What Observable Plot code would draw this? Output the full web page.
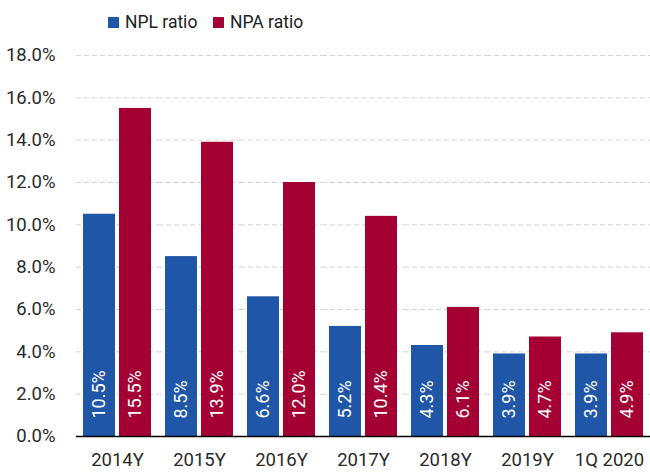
<!DOCTYPE html>
<html><head><meta charset="utf-8">
<script src="https://cdn.jsdelivr.net/npm/d3@7"></script>
<script src="https://cdn.jsdelivr.net/npm/@observablehq/plot@0.6"></script>
<style>
body{margin:0;background:#fff;font-family:Roboto,sans-serif;}
#legend{height:40px;position:relative;font-size:17.5px;color:#222;}
.item{position:absolute;top:12px;display:flex;align-items:center;}
.sw{width:11px;height:11px;margin-right:6px;}
</style></head>
<body>
<div id="legend"></div>
<div id="chart"></div>
<script>
const periods = ["2014Y","2015Y","2016Y","2017Y","2018Y","2019Y","1Q 2020"];
const series = ["NPL ratio","NPA ratio"];
const nplRatio = [10.5, 8.5, 6.6, 5.2, 4.3, 3.9, 3.9];
const npaRatio = [15.5, 13.9, 12.0, 10.4, 6.1, 4.7, 4.9];
const yTicks = [0,2,4,6,8,10,12,14,16,18];
const colors = ["#2056a7","#a50034"];

const data = [];
periods.forEach((p,i)=>{
  data.push({period:p, series:series[0], value:nplRatio[i]});
  data.push({period:p, series:series[1], value:npaRatio[i]});
});

const legend = document.getElementById("legend");
const legendX = [108, 213];
series.forEach((s,i)=>{
  const d = document.createElement("div");
  d.className="item"; d.style.left = legendX[i]+"px";
  d.innerHTML = `<span class="sw" style="background:${colors[i]}"></span><span>${s}</span>`;
  legend.appendChild(d);
});

const fmt = d => d.toFixed(1) + "%";
const chart = Plot.plot({
  width: 650, height: 432,
  marginLeft: 76, marginRight: 0, marginTop: 15, marginBottom: 36,
  style:{fontFamily:'Roboto,sans-serif', fontSize:"18.5px", color:"#2a2a2a"},
  fx:{domain:periods, padding:0, label:null, tickSize:0, tickPadding:16},
  x:{domain:series, paddingInner:0.111, paddingOuter:0.19, axis:null},
  y:{domain:[0,18], ticks:yTicks, tickFormat:fmt, label:null, tickSize:0, tickPadding:21},
  color:{domain:series, range:colors},
  marks:[
    Plot.gridY(yTicks.filter(t=>t>0), {stroke:"#d6d6d6", strokeOpacity:1, strokeDasharray:"5,3"}),
    Plot.barY(data, {fx:"period", x:"series", y:"value", fill:"series"}),
    Plot.ruleY([0], {stroke:"#000", strokeWidth:1.3}),
    Plot.text(data, {fx:"period", x:"series", y:()=>0, text:d=>fmt(d.value), rotate:-90, textAnchor:"start", lineAnchor:"middle", dy:-18, fill:"#fff", fontSize:18})
  ]
});
document.getElementById("chart").appendChild(chart);
</script>
</body></html>
